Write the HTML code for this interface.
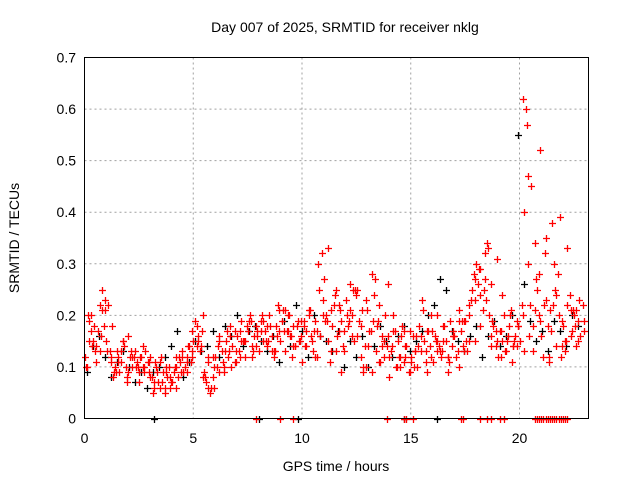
<!DOCTYPE html>
<html><head><meta charset="utf-8"><style>
body{margin:0;background:#fff}
svg text{font-family:"Liberation Sans",sans-serif;font-size:14px;fill:#000}
</style></head><body>
<svg width="640" height="480" id="chart">
<rect width="640" height="480" fill="#fff"/>
<g id="grid"></g>
<g id="ticks"></g>
<g id="blk"></g>
<g id="red"></g>
<rect x="84.5" y="57.5" width="504" height="361" fill="none" stroke="#000"/>
<text x="345" y="32" text-anchor="middle">Day 007 of 2025, SRMTID for receiver nklg</text>
<text x="336" y="471" text-anchor="middle">GPS time / hours</text>
<text transform="translate(19,238) rotate(-90)" text-anchor="middle">SRMTID / TECUs</text>
</svg>
<script>
const xTicks=[0,5,10,15,20];
const yTicks=[0,0.1,0.2,0.3,0.4,0.5,0.6,0.7];
const redStep=0.1;
const redValues=[0.12,0.10,0.19,0.20,0.15,0.13,0.17,0.22,0.25,0.18,
0.15,0.22,0.12,0.08,0.10,0.13,0.09,0.11,0.14,0.10,
0.16,0.12,0.10,0.13,0.11,0.09,0.12,0.10,0.13,0.11,
0.12,0.08,0.06,0.10,0.07,0.12,0.09,0.06,0.08,0.10,
0.07,0.09,0.12,0.08,0.11,0.13,0.10,0.12,0.14,0.11,
0.15,0.19,0.16,0.13,0.17,0.09,0.07,0.11,0.06,0.08,
0.12,0.10,0.16,0.13,0.09,0.15,0.12,0.18,0.14,0.11,
0.16,0.13,0.19,0.15,0.12,0.17,0.20,0.14,0.16,0.18,
0.13,0.19,0.15,0.17,0.14,0.20,0.16,0.12,0.18,0.22,
0.15,0.19,0.13,0.17,0.20,0.16,0.18,0.14,0.19,0.15,
0.11,0.18,0.14,0.20,0.16,0.13,0.19,0.17,0.25,0.32,
0.27,0.20,0.15,0.11,0.18,0.24,0.16,0.22,0.19,0.14,
0.23,0.18,0.26,0.20,0.15,0.24,0.19,0.12,0.09,0.14,
0.21,0.17,0.28,0.24,0.13,0.19,0.11,0.16,0.20,0.14,
0.08,0.13,0.17,0.10,0.15,0.12,0.18,0.11,0.14,0.09,
0.12,0.16,0.13,0.10,0.18,0.23,0.15,0.13,0.17,0.14,
0.11,0.16,0.20,0.14,0.12,0.18,0.15,0.09,0.19,0.14,
0.16,0.12,0.21,0.17,0.14,0.19,0.13,0.22,0.25,0.28,
0.30,0.26,0.24,0.21,0.32,0.34,0.20,0.16,0.18,0.14,
0.12,0.17,0.15,0.20,0.13,0.18,0.21,0.14,0.16,0.19,
0.15,0.22,0.40,0.60,0.30,0.22,0.18,0.34,0.25,0.20,
0.16,0.12,0.23,0.18,0.21,0.38,0.30,0.14,0.20,0.12,
0.18,0.15,0.22,0.24,0.17,0.20,0.14,0.19,0.16,0.22];
const redValues2=[0.10,0.17,0.14,0.21,0.13,0.18,0.11,0.15,0.09,0.12,0.07,0.10,0.08,0.11,0.06,0.09,0.07,0.10,0.12,0.09,
0.17,0.14,0.08,0.06,0.12,0.15,0.10,0.13,0.17,0.12,0.15,0.19,0.14,0.17,0.18,0.13,0.16,0.21,0.17,0.14,
0.15,0.19,0.21,0.12,0.16,0.19,0.21,0.13,0.09,0.20,0.16,0.25,0.10,0.14,0.19,0.11,0.15,0.12,0.17,0.10,
0.14,0.11,0.16,0.13,0.09,0.17,0.13,0.15,0.12,0.17,0.10,0.19,0.15,0.23,0.29,0.27,0.14,0.17,0.12,0.15,
0.11,0.14,0.62,0.47,0.13,0.28,0.22,0.11,0.25,0.39,0.13,0.16,0.21];
const redValues3=[0.20,0.14,0.11,0.16,0.23,0.13,0.09,0.12,0.15,0.07,
0.13,0.10,0.12,0.09,0.11,0.05,0.09,0.07,0.10,0.06,
0.10,0.12,0.09,0.14,0.12,0.18,0.14,0.08,0.05,0.10,
0.14,0.11,0.17,0.10,0.13,0.17,0.15,0.19,0.13,0.17,
0.20,0.15,0.18,0.13,0.21,0.17,0.20,0.12,0.18,0.16,
0.14,0.21,0.17,0.30,0.23,0.19,0.13,0.25,0.21,0.17,
0.19,0.25,0.16,0.21,0.10,0.17,0.27,0.22,0.12,0.16,
0.14,0.10,0.16,0.12,0.17,0.10,0.14,0.21,0.17,0.12,
0.15,0.13,0.18,0.11,0.16,0.13,0.19,0.15,0.23,0.27,
0.29,0.25,0.33,0.19,0.15,0.17,0.13,0.20,0.15,0.18,
0.20,0.57,0.45,0.27,0.19,0.32,0.12,0.22,0.28,0.19,
0.15,0.21,0.18,0.23,0.17];
const redValues4=[0.15,0.18,0.13,0.21,0.11,0.09,0.13,0.08,0.12,0.10,0.14,0.09,0.07,0.11,0.05,0.08,0.06,0.09,0.11,0.13,
0.15,0.20,0.12,0.06,0.09,0.13,0.16,0.11,0.15,0.18,0.12,0.16,0.19,0.15,0.13,0.17,0.21,0.16,0.14,0.19,
0.17,0.15,0.12,0.20,0.33,0.22,0.17,0.13,0.21,0.25,0.18,0.23,0.09,0.18,0.14,0.26,0.20,0.12,0.17,0.09,
0.13,0.16,0.11,0.20,0.15,0.13,0.12,0.16,0.19,0.13,0.20,0.15,0.18,0.23,0.26,0.31,0.24,0.16,0.14,0.18,
0.13,0.16,0.21,0.52,0.35,0.17,0.24,0.14,0.33,0.21,0.15,0.19];
const blackValues=[0.09,0.14,0.16,0.12,0.08,0.11,0.13,0.10,0.07,0.09,0.06,0.09,0.10,0.12,0.14,0.17,0.08,0.11,0.15,0.13,
0.14,0.17,0.12,0.18,0.16,0.20,0.14,0.17,0.18,0.15,0.13,0.16,0.11,0.19,0.14,0.22,0.17,0.12,0.20,0.16,
0.15,0.13,0.17,0.10,0.15,0.12,0.16,0.10,0.14,0.18,0.15,0.12,0.16,0.18,0.13,0.15,0.17,0.20,0.22,0.27,
0.25,0.17,0.15,0.13,0.16,0.18,0.12,0.16,0.19,0.14,0.16,0.20,0.55,0.26,0.19,0.15,0.17,0.13,0.19,0.17,0.14,0.20,0.18];
const redZeroTimes=[7.9,9.0,9.6,13.9,14.7,14.8,15.1,17.3,17.4,18.2,18.5,18.7,19.1,19.3,20.7,20.8,20.9,21.0,21.1,21.2,21.3,21.4,21.5,21.6,21.7,21.8,21.9,22.0,22.1,22.2];
const blackZeroTimes=[3.2,8.0,9.8,14.7,16.2];
const X=t=>84.5+t*21.75, Y=v=>418.5-v*515.7;
const NS="http://www.w3.org/2000/svg";
function mk(tag,parent,attrs){const e=document.createElementNS(NS,tag);for(const k in attrs)e.setAttribute(k,attrs[k]);parent.appendChild(e);return e;}
const grid=document.getElementById('grid'),ticks=document.getElementById('ticks');
xTicks.forEach(t=>{const x=X(t);
 if(t>0){const g=mk('line',grid,{x1:x,x2:x,y1:57.5,y2:418.5,stroke:'#a0a0a0','stroke-dasharray':'2,3'});
 
 }
 const l=mk('text',ticks,{x:x,y:443,'text-anchor':'middle'});l.textContent=t;
 
 });
yTicks.forEach(v=>{const y=Y(v);
 if(v>0&&v<0.7){const g=mk('line',grid,{x1:84.5,x2:588.5,y1:y,y2:y,stroke:'#a0a0a0','stroke-dasharray':'2,3'});
 
 }
 const l=mk('text',ticks,{x:76,y:y+5,'text-anchor':'end'});l.textContent=v;
 
 });
function plus(parent,t,v,col){const x=Math.round(X(t))+0.5,y=Math.round(Y(v))+0.5;
 const p=mk('path',parent,{d:`M${x-3.5} ${y}H${x+3.5}M${x} ${y-3.5}V${y+3.5}`,stroke:col,'stroke-width':1.3,fill:'none'});
 
 }
const red=document.getElementById('red'),blk=document.getElementById('blk');
blackValues.forEach((v,i)=>plus(blk,0.12+i*0.275,v,'#000'));
blackZeroTimes.forEach(t=>plus(blk,t,0,'#000'));
redValues.forEach((v,i)=>plus(red,i*redStep,v,'#f00'));
redValues2.forEach((v,i)=>plus(red,0.05+i*0.245,v,'#f00'));
redValues3.forEach((v,i)=>plus(red,0.15+i*0.2,v,'#f00'));
redValues4.forEach((v,i)=>plus(red,0.2+i*0.25,v,'#f00'));
redZeroTimes.forEach(t=>plus(red,t,0,'#f00'));
</script>
</body></html>
